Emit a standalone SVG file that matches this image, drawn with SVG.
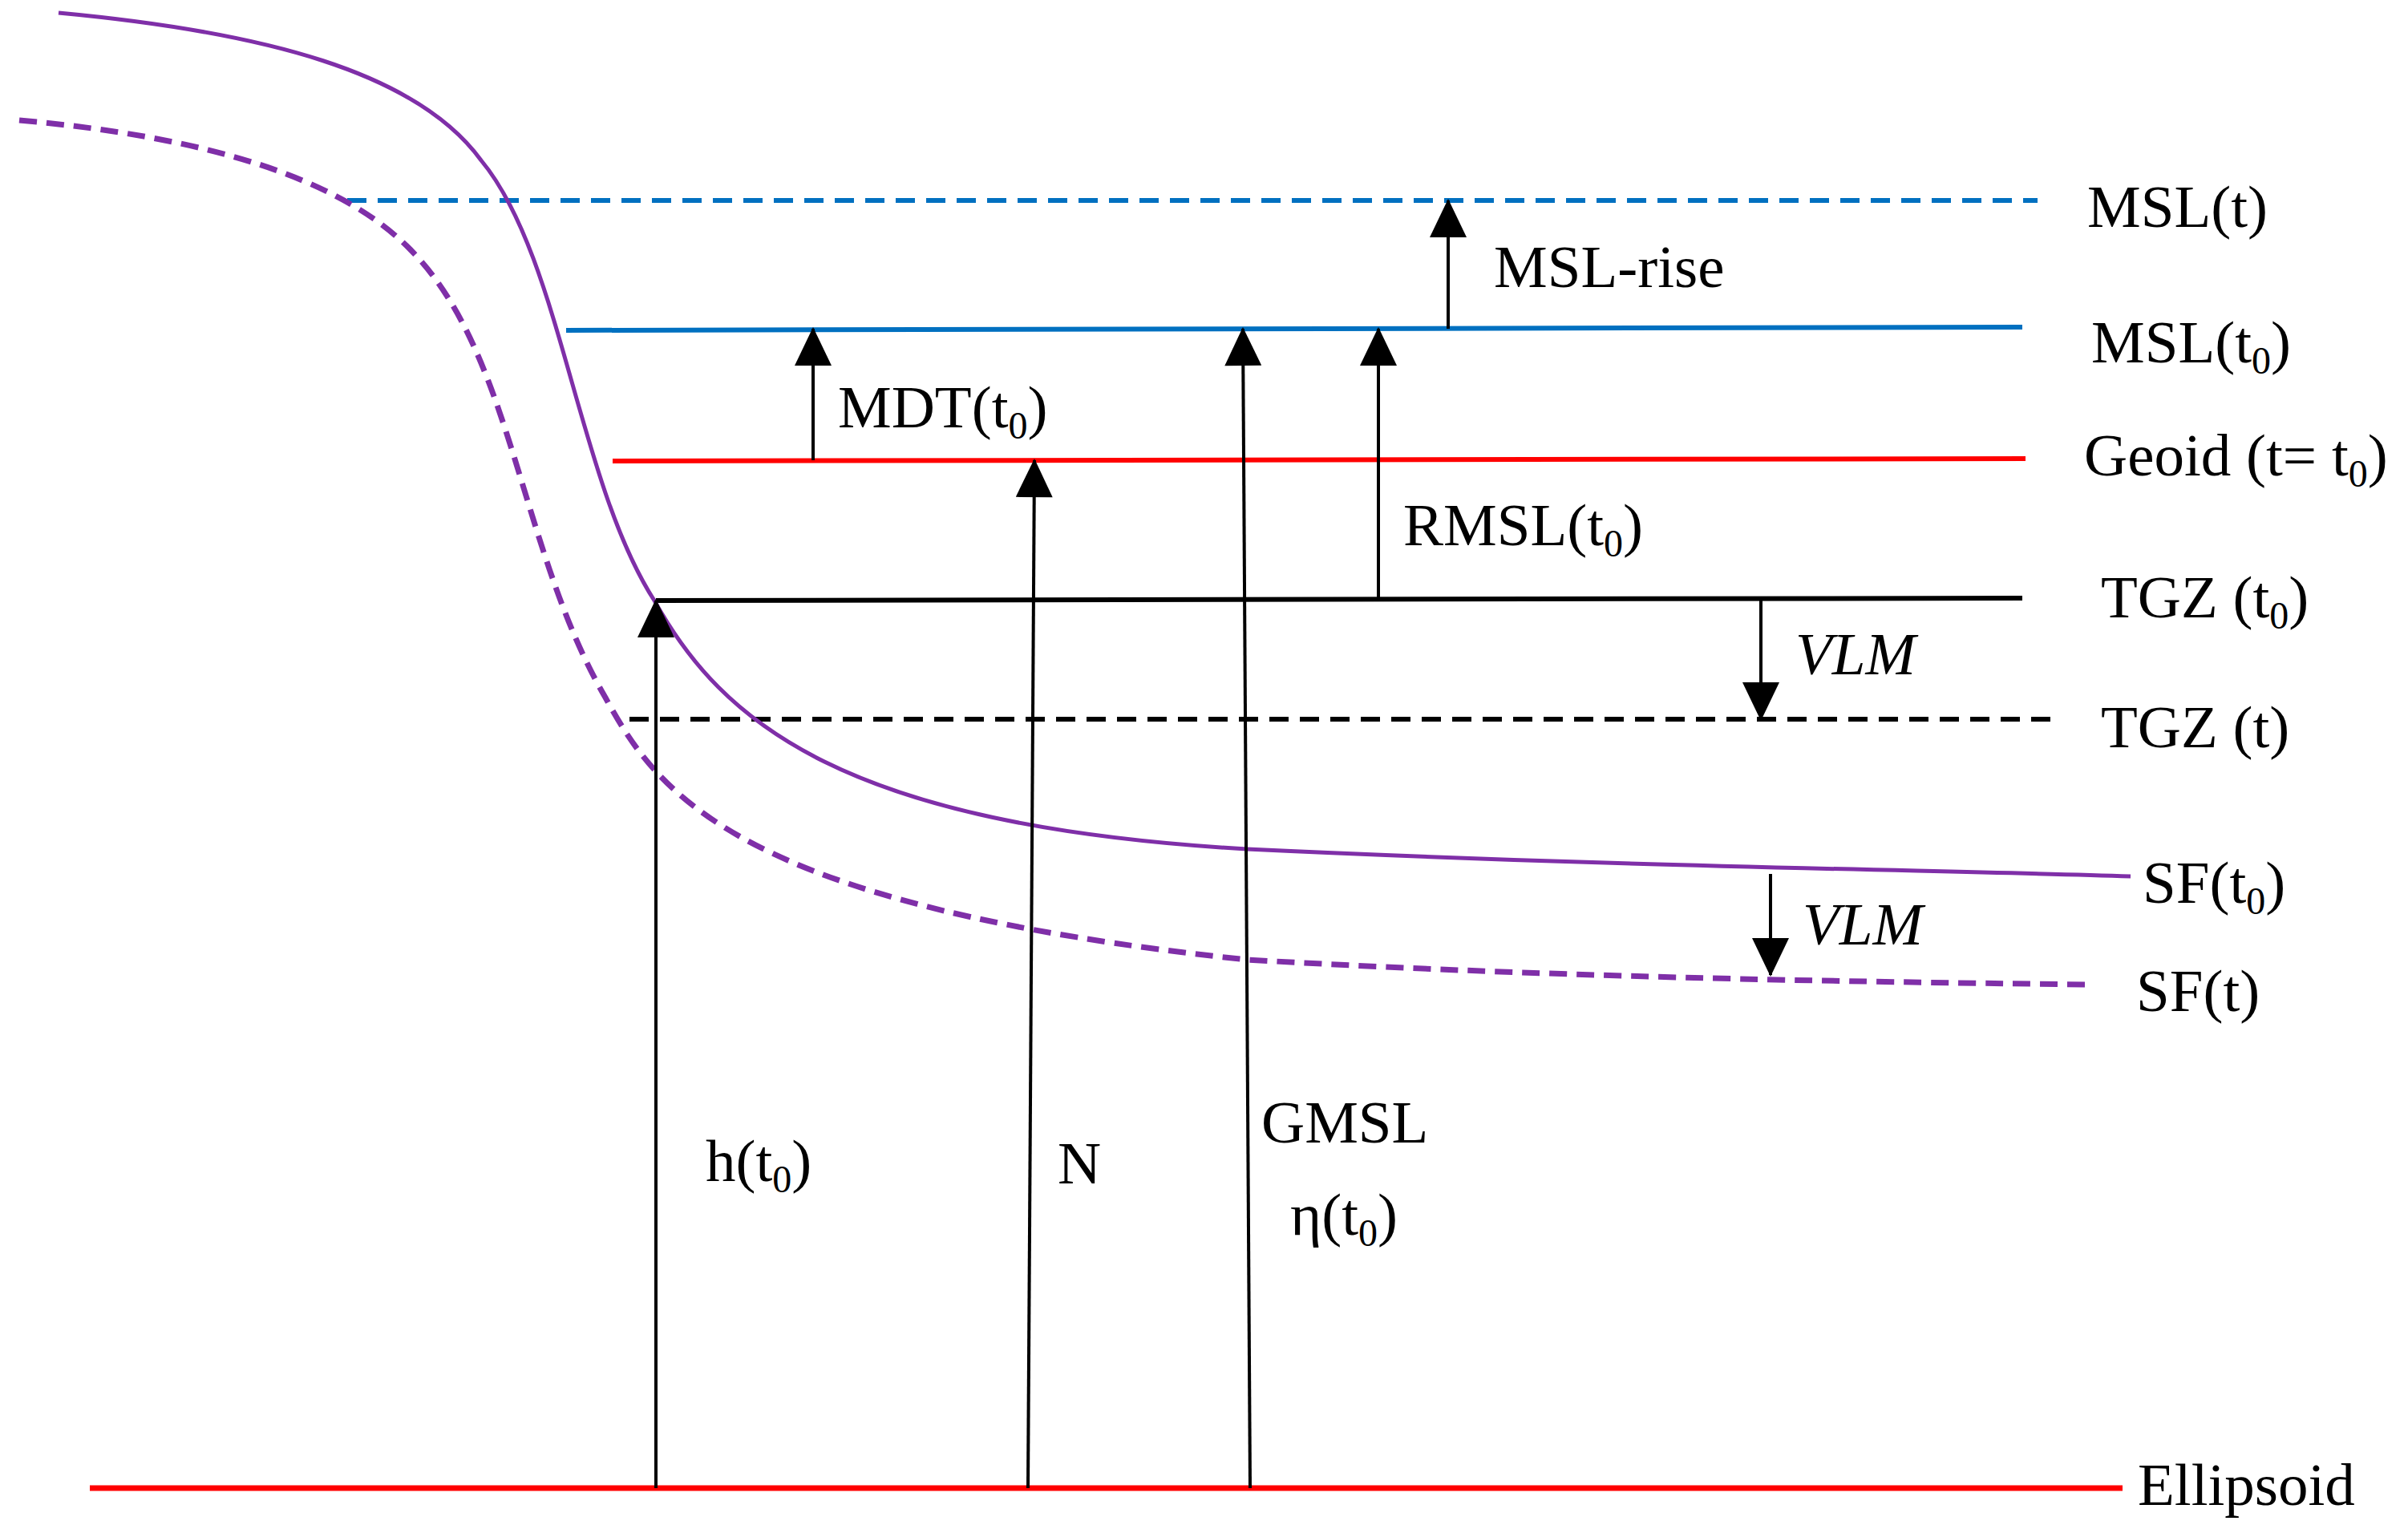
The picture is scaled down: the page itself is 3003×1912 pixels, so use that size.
<svg xmlns="http://www.w3.org/2000/svg" width="3003" height="1912" viewBox="0 0 3003 1912">
<style>
text{font-family:"Liberation Serif","DejaVu Serif",serif;font-size:75px;fill:#000}
.ar{stroke:#000;stroke-width:4;fill:none;marker-end:url(#ah)}
.sub{font-size:48px}
</style>
<defs>
<marker id="ah" markerUnits="userSpaceOnUse" markerWidth="50" markerHeight="46" refX="46" refY="23" orient="auto" viewBox="0 0 48 46">
<path d="M0,0 L48,23 L0,46 Z" fill="#000"/>
</marker>
</defs>
<rect width="3003" height="1912" fill="#fff"/>
<g id="levels" fill="none">
<line id="msl_t" x1="433" y1="250" x2="2541" y2="250" stroke="#0070C0" stroke-width="6" stroke-dasharray="24,14"/>
<line id="msl_t0" x1="706" y1="412" x2="2522" y2="408" stroke="#0070C0" stroke-width="6"/>
<line id="geoid" x1="764" y1="575" x2="2526" y2="572" stroke="#FF0000" stroke-width="6"/>
<line id="tgz_t0" x1="818" y1="749" x2="2522" y2="746" stroke="#000" stroke-width="6"/>
<line id="tgz_t" x1="785" y1="897" x2="2560" y2="897" stroke="#000" stroke-width="6" stroke-dasharray="24,14"/>
<line id="ellipsoid" x1="112" y1="1856" x2="2647" y2="1856" stroke="#FF0000" stroke-width="7"/>
<path id="sf_t0" d="M73,16 C330,40 520,90 600,200 C700,320 720,600 816,749 C900,900 1050,1030 1555,1059 C2000,1080 2400,1085 2657,1093" stroke="#7F2FA8" stroke-width="5"/>
<path id="sf_t" d="M24,150 C250,170 430,220 520,320 C640,450 650,690 755,870 C820,990 920,1130 1555,1197 C1950,1220 2350,1225 2608,1228" stroke="#7F2FA8" stroke-width="7" stroke-dasharray="22,12"/>
</g>
<g id="connectors">
<line class="ar" x1="818" y1="1856" x2="818" y2="749"/>
<line class="ar" x1="1282" y1="1856" x2="1290" y2="574"/>
<line class="ar" x1="1559" y1="1856" x2="1550" y2="410"/>
<line class="ar" x1="1014" y1="574" x2="1014" y2="410"/>
<line class="ar" x1="1719" y1="749" x2="1719" y2="410"/>
<line class="ar" x1="1806" y1="410" x2="1806" y2="250"/>
<line class="ar" x1="2196" y1="749" x2="2196" y2="897"/>
<line class="ar" x1="2208" y1="1090" x2="2208" y2="1216"/>
</g>
<g id="labels">
<text x="2603" y="283">MSL(t)</text>
<text x="2608" y="452">MSL(t<tspan class="sub" dy="14">0</tspan><tspan dy="-14">)</tspan></text>
<text x="2599" y="593">Geoid (t= t<tspan class="sub" dy="14">0</tspan><tspan dy="-14">)</tspan></text>
<text x="2620" y="770">TGZ (t<tspan class="sub" dy="14">0</tspan><tspan dy="-14">)</tspan></text>
<text x="2620" y="932">TGZ (t)</text>
<text x="2672" y="1126">SF(t<tspan class="sub" dy="14">0</tspan><tspan dy="-14">)</tspan></text>
<text x="2664" y="1261">SF(t)</text>
<text x="2666" y="1877">Ellipsoid</text>
<text x="1863" y="358">MSL-rise</text>
<text x="1045" y="533">MDT(t<tspan class="sub" dy="14">0</tspan><tspan dy="-14">)</tspan></text>
<text x="1750" y="680">RMSL(t<tspan class="sub" dy="14">0</tspan><tspan dy="-14">)</tspan></text>
<text x="2239" y="841" font-style="italic">VLM</text>
<text x="2248" y="1178" font-style="italic">VLM</text>
<text x="880" y="1473">h(t<tspan class="sub" dy="14">0</tspan><tspan dy="-14">)</tspan></text>
<text x="1319" y="1476">N</text>
<text x="1573" y="1425">GMSL</text>
<text x="1609" y="1540">η(t<tspan class="sub" dy="14">0</tspan><tspan dy="-14">)</tspan></text>
</g>
</svg>
